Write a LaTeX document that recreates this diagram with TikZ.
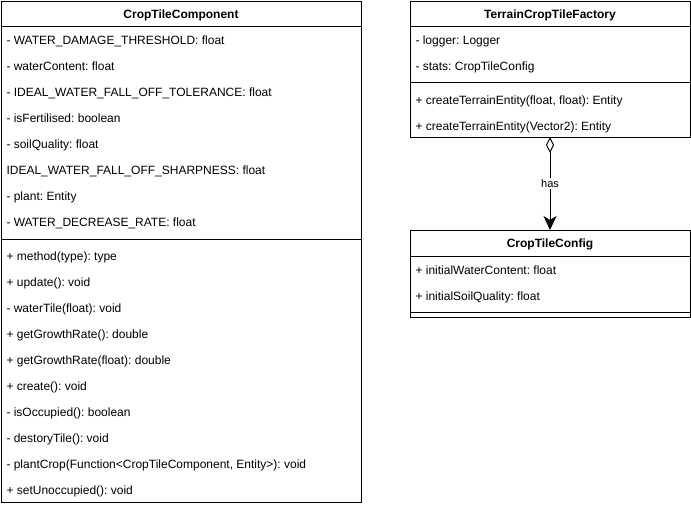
\documentclass[tikz,border=0pt]{standalone}
\usepackage{fontspec}
\setmainfont{Liberation Sans}
\usetikzlibrary{arrows.meta}
\begin{document}
\frenchspacing
\begin{tikzpicture}[x=1pt,y=-1pt,line width=1pt,
  umlbox/.style={draw,fill=white,inner sep=0pt,outer sep=0pt,anchor=north west},
  umltitle/.style={font=\bfseries\fontsize{12}{14}\selectfont,inner sep=0pt,anchor=base},
  member/.style={font=\fontsize{12}{14}\selectfont,anchor=base west,inner sep=0pt},
  edgelabel/.style={font=\fontsize{11}{13}\selectfont,fill=white,inner sep=1.5pt}]
\useasboundingbox (0,0) rectangle (691,506);

% ---- CropTileComponent ----
\node[umlbox,minimum width=360pt,minimum height=501pt] (ctc) at (1,1) {};
\node[umltitle] (ctcT) at (181,18) {CropTileComponent};
\draw (ctc.west |- 0,26) -- (ctc.east |- 0,26);
\draw (ctc.west |- 0,239) -- (ctc.east |- 0,239);
\foreach \t [count=\i from 0] in {
  {- WATER\_DAMAGE\_THRESHOLD: float},
  {- waterContent: float},
  {- IDEAL\_WATER\_FALL\_OFF\_TOLERANCE: float},
  {- isFertilised: boolean},
  {- soilQuality: float},
  {IDEAL\_WATER\_FALL\_OFF\_SHARPNESS: float},
  {- plant: Entity},
  {- WATER\_DECREASE\_RATE: float}}
  \node[member] (ctcA\i) at (6,{44.3+26*\i}) {\t};
\foreach \t [count=\i from 0] in {
  {+ method(type): type},
  {+ update(): void},
  {- waterTile(float): void},
  {+ getGrowthRate(): double},
  {+ getGrowthRate(float): double},
  {+ create(): void},
  {- isOccupied(): boolean},
  {- destoryTile(): void},
  {- plantCrop(Function<CropTileComponent, Entity>): void},
  {+ setUnoccupied(): void}}
  \node[member] (ctcM\i) at (6,{260.3+26*\i}) {\t};

% ---- TerrainCropTileFactory ----
\node[umlbox,minimum width=280pt,minimum height=136pt] (fac) at (410,1) {};
\node[umltitle] (facT) at (550,18) {TerrainCropTileFactory};
\draw (fac.west |- 0,26) -- (fac.east |- 0,26);
\draw (fac.west |- 0,82) -- (fac.east |- 0,82);
\node[member] (facA0) at (415,44.3) {- logger: Logger};
\node[member] (facA1) at (415,70.3) {- stats: CropTileConfig};
\node[member] (facM0) at (415,104.3) {+ createTerrainEntity(float, float): Entity};
\node[member] (facM1) at (415,130.3) {+ createTerrainEntity(Vector2): Entity};

% ---- CropTileConfig ----
\node[umlbox,minimum width=280pt,minimum height=87pt] (cfg) at (410,230) {};
\node[umltitle] (cfgT) at (550,247.5) {CropTileConfig};
\draw (cfg.west |- 0,256) -- (cfg.east |- 0,256);
\draw (cfg.west |- 0,312) -- (cfg.east |- 0,312);
\node[member] (cfgA0) at (415,274.3) {+ initialWaterContent: float};
\node[member] (cfgA1) at (415,300.3) {+ initialSoilQuality: float};

% ---- aggregation ----
\draw[{Diamond[open,fill=white,length=16pt,width=8pt]}-{Stealth[length=14pt,width=13pt,inset=4pt]}]
  (fac.south) -- node[edgelabel] (has) {has} (cfg.north);
\end{tikzpicture}
\end{document}
